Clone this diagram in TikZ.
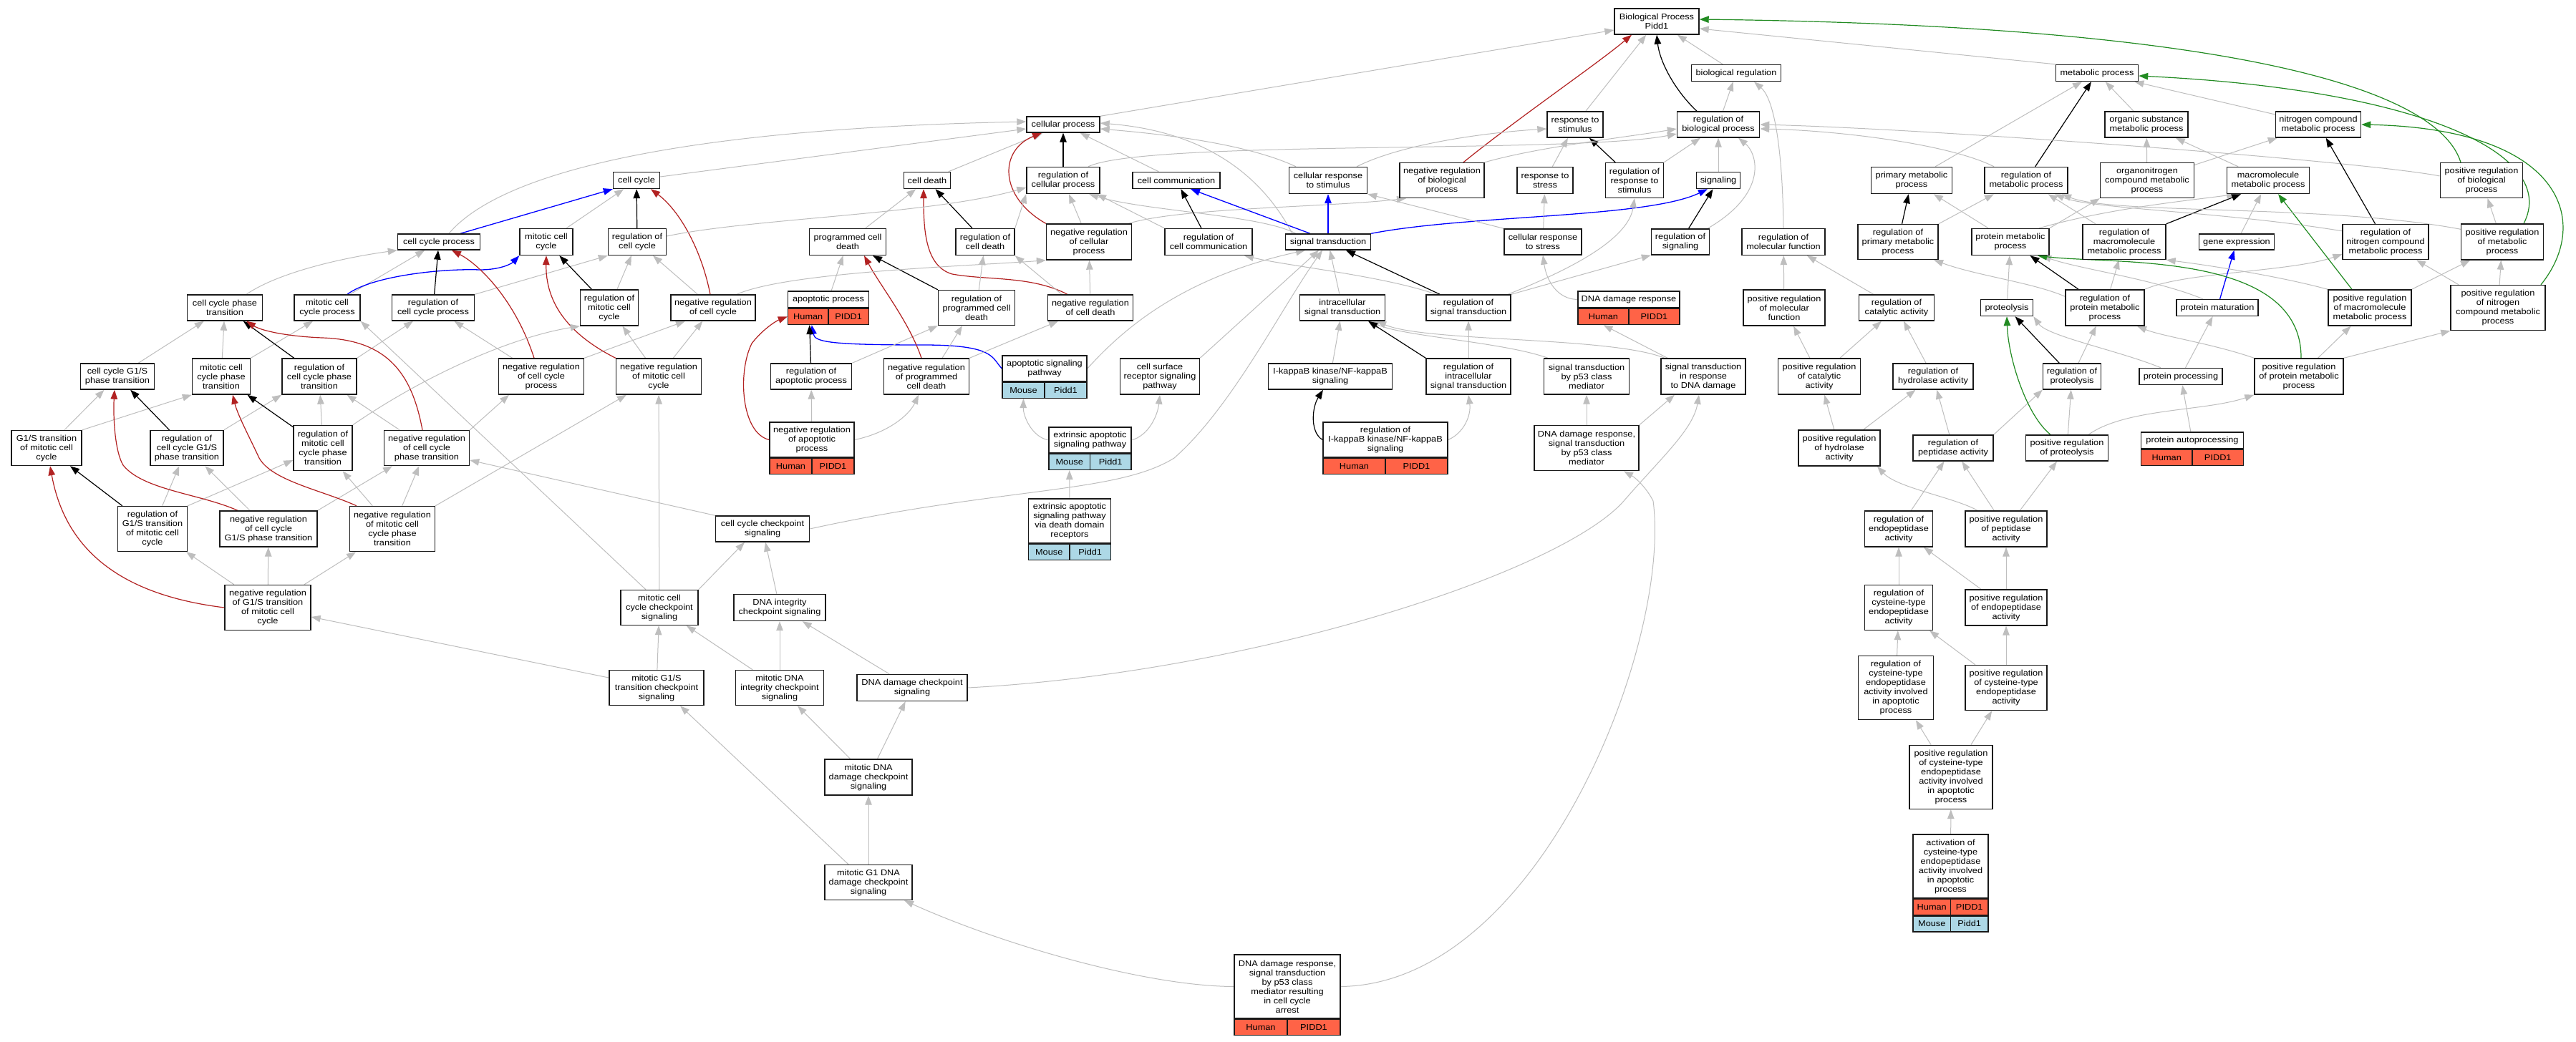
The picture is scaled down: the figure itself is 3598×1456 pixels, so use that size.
\documentclass[tikz,border=0pt]{standalone}
\usepackage{fontspec}
\setmainfont{Liberation Sans}[FakeStretch=1.1]
\usetikzlibrary{arrows.meta}
\definecolor{eg}{RGB}{190,190,190}
\definecolor{ered}{RGB}{178,34,34}
\definecolor{egreen}{RGB}{34,139,34}
\definecolor{eblue}{RGB}{0,0,255}
\definecolor{hum}{RGB}{255,99,71}
\definecolor{mou}{RGB}{173,216,230}
\pgfdeclarelayer{bg}
\pgfsetlayers{bg,main}
\newcommand\nf{\fontsize{11.6pt}{13pt}\selectfont}
\newcommand\gonode[6]{\node[box,minimum width=#4pt,minimum height=#5pt] (#1) at (#2,#3) {#6};}
\begin{document}
\begin{tikzpicture}[x=1pt,y=-1pt,
  box/.style={draw=black!90, line width=1.4pt, fill=white, inner sep=1pt, align=center, font=\nf},
  hc/.style={box, fill=hum, minimum height=22pt},
  mc/.style={box, fill=mou, minimum height=22pt},
  tip/.style={-{Triangle[length=13pt,width=9.5pt]}},
  ge/.style={draw=eg, line width=1pt, tip},
  be/.style={draw=black, line width=1.2pt, tip},
  re/.style={draw=ered, line width=1.2pt, tip},
  gn/.style={draw=egreen, line width=1.2pt, tip},
  bl/.style={draw=eblue, line width=1.3pt, tip}]
\useasboundingbox (0,0) rectangle (3598,1456);

% ---------------- nodes ----------------
\gonode{BP}{2314}{30}{118}{36}{Biological Process\\Pidd1}
\gonode{bioreg}{2425}{102}{125}{23}{biological regulation}
\gonode{metab}{2929}{102}{115}{23}{metabolic process}
\gonode{cellproc}{1485}{174}{102}{22}{cellular process}
\gonode{respstim}{2200}{174}{78}{36}{response to\\stimulus}
\gonode{regbio}{2400}{174}{115}{36}{regulation of\\biological process}
\gonode{orgsub}{2998}{174}{116}{36}{organic substance\\metabolic process}
\gonode{nitro}{3238}{174}{119}{36}{nitrogen compound\\metabolic process}
\gonode{cellcycle}{889}{252}{65}{23}{cell cycle}
\gonode{celldeath}{1295}{252}{65}{23}{cell death}
\gonode{regcell}{1485}{252}{102}{37}{regulation of\\cellular process}
\gonode{cellcomm}{1643}{252}{122}{23}{cell communication}
\gonode{cellresp}{1855}{252}{109}{37}{cellular response\\to stimulus}
\gonode{negbio}{2014}{252}{118}{49}{negative regulation\\of biological\\process}
\gonode{respstress}{2158}{252}{78}{37}{response to\\stress}
\gonode{regresp}{2283}{252}{81}{49}{regulation of\\response to\\stimulus}
\gonode{signaling}{2400}{252}{61}{23}{signaling}
\gonode{primary}{2670}{252}{113}{37}{primary metabolic\\process}
\gonode{regmet}{2830}{252}{116}{37}{regulation of\\metabolic process}
\gonode{orgnit}{2999}{252}{131}{49}{organonitrogen\\compound metabolic\\process}
\gonode{macro}{3168}{252}{115}{37}{macromolecule\\metabolic process}
\gonode{posbio}{3466}{252}{115}{49}{positive regulation\\of biological\\process}
\gonode{ccp}{613}{338}{115}{22}{cell cycle process}
\gonode{mcc}{763}{338}{74}{37}{mitotic cell\\cycle}
\gonode{regcc}{890}{338}{81}{37}{regulation of\\cell cycle}
\gonode{pcd}{1184}{338}{107}{37}{programmed cell\\death}
\gonode{regcd}{1376}{338}{82}{37}{regulation of\\cell death}
\gonode{negcell}{1521}{338}{119}{50}{negative regulation\\of cellular\\process}
\gonode{regcomm}{1688}{338}{122}{37}{regulation of\\cell communication}
\gonode{sigtrans}{1855}{338}{119}{22}{signal transduction}
\gonode{crstress}{2155}{338}{108}{36}{cellular response\\to stress}
\gonode{regsig}{2347}{338}{81}{36}{regulation of\\signaling}
\gonode{regmf}{2491}{338}{116}{37}{regulation of\\molecular function}
\gonode{regprim}{2651}{338}{112}{49}{regulation of\\primary metabolic\\process}
\gonode{protmet}{2808}{338}{108}{37}{protein metabolic\\process}
\gonode{regmacro}{2967}{338}{116}{49}{regulation of\\macromolecule\\metabolic process}
\gonode{geneexp}{3124}{338}{105}{22}{gene expression}
\gonode{regnit}{3332}{338}{120}{49}{regulation of\\nitrogen compound\\metabolic process}
\gonode{posmet}{3495}{338}{115}{50}{positive regulation\\of metabolic\\process}
\gonode{ccpt}{314}{430}{105}{36}{cell cycle phase\\transition}
\gonode{mccp}{457}{430}{92}{36}{mitotic cell\\cycle process}
\gonode{regccp}{605}{430}{115}{36}{regulation of\\cell cycle process}
\gonode{regmcc}{851}{430}{81}{50}{regulation of\\mitotic cell\\cycle}
\gonode{negcc}{996}{430}{118}{36}{negative regulation\\of cell cycle}
\gonode{apop}{1157}{418.5}{113}{23}{apoptotic process}
\node[hc,minimum width=56.5pt,anchor=north west] (apopH) at (apop.south west) {Human};
\node[hc,minimum width=56.5pt,anchor=north east] (apopP) at (apop.south east) {PIDD1};
\gonode{regpcd}{1364}{430}{107}{49}{regulation of\\programmed cell\\death}
\gonode{negcd}{1523}{430}{119}{36}{negative regulation\\of cell death}
\gonode{intra}{1875}{430}{119}{36}{intracellular\\signal transduction}
\gonode{regst}{2051}{430}{118}{36}{regulation of\\signal transduction}
\gonode{dnadr}{2275}{418.5}{142}{23}{DNA damage response}
\node[hc,minimum width=71pt,anchor=north west] (dnadrH) at (dnadr.south west) {Human};
\node[hc,minimum width=71pt,anchor=north east] (dnadrP) at (dnadr.south east) {PIDD1};
\gonode{posmf}{2492}{430}{114}{50}{positive regulation\\of molecular\\function}
\gonode{regcat}{2649}{430}{105}{36}{regulation of\\catalytic activity}
\gonode{proteo}{2803}{430}{73}{23}{proteolysis}
\gonode{regpm}{2940}{430}{110}{50}{regulation of\\protein metabolic\\process}
\gonode{protmat}{3097}{430}{114}{23}{protein maturation}
\gonode{posmacro}{3310}{430}{116}{50}{positive regulation\\of macromolecule\\metabolic process}
\gonode{posnit}{3489}{430}{132}{63}{positive regulation\\of nitrogen\\compound metabolic\\process}
\gonode{ccg1s}{164}{526}{103}{36}{cell cycle G1/S\\phase transition}
\gonode{mccpt}{309}{526}{81}{50}{mitotic cell\\cycle phase\\transition}
\gonode{regccpt}{446}{526}{104}{50}{regulation of\\cell cycle phase\\transition}
\gonode{negccp}{756}{526}{119}{50}{negative regulation\\of cell cycle\\process}
\gonode{negmcc}{920}{526}{119}{50}{negative regulation\\of mitotic cell\\cycle}
\gonode{regap}{1133}{526}{113}{36}{regulation of\\apoptotic process}
\gonode{negpcd}{1294}{526}{119}{50}{negative regulation\\of programmed\\cell death}
\gonode{apsig}{1459}{515}{118}{36}{apoptotic signaling\\pathway}
\node[mc,minimum width=59pt,anchor=north west] (apsigM) at (apsig.south west) {Mouse};
\node[mc,minimum width=59pt,anchor=north east] (apsigP) at (apsig.south east) {Pidd1};
\gonode{csr}{1620}{526}{111}{50}{cell surface\\receptor signaling\\pathway}
\gonode{ikb}{1858}{526}{173}{36}{I-kappaB kinase/NF-kappaB\\signaling}
\gonode{regintra}{2051}{526}{118}{50}{regulation of\\intracellular\\signal transduction}
\gonode{p53}{2216}{526}{119}{50}{signal transduction\\by p53 class\\mediator}
\gonode{stdna}{2379}{526}{118}{50}{signal transduction\\in response\\to DNA damage}
\gonode{poscat}{2541}{526}{115}{50}{positive regulation\\of catalytic\\activity}
\gonode{reghyd}{2700}{526}{112}{36}{regulation of\\hydrolase activity}
\gonode{regproteo}{2894}{526}{81}{36}{regulation of\\proteolysis}
\gonode{protproc}{3046}{526}{116}{23}{protein processing}
\gonode{pospm}{3211}{526}{124}{50}{positive regulation\\of protein metabolic\\process}
\gonode{g1s}{65}{626}{98}{49}{G1/S transition\\of mitotic cell\\cycle}
\gonode{regccg1s}{261}{626}{102}{49}{regulation of\\cell cycle G1/S\\phase transition}
\gonode{regmccpt}{451}{626}{82}{63}{regulation of\\mitotic cell\\cycle phase\\transition}
\gonode{negccpt}{596}{626}{119}{49}{negative regulation\\of cell cycle\\phase transition}
\gonode{negap}{1134}{614.5}{118}{49}{negative regulation\\of apoptotic\\process}
\node[hc,minimum width=59pt,anchor=north west] (negapH) at (negap.south west) {Human};
\node[hc,minimum width=59pt,anchor=north east] (negapP) at (negap.south east) {PIDD1};
\gonode{extap}{1522.5}{615}{115}{36}{extrinsic apoptotic\\signaling pathway}
\node[mc,minimum width=57.5pt,anchor=north west] (extapM) at (extap.south west) {Mouse};
\node[mc,minimum width=57.5pt,anchor=north east] (extapP) at (extap.south east) {Pidd1};
\gonode{regikb}{1935}{614.5}{174}{49}{regulation of\\I-kappaB kinase/NF-kappaB\\signaling}
\node[hc,minimum width=87pt,anchor=north west] (regikbH) at (regikb.south west) {Human};
\node[hc,minimum width=87pt,anchor=north east] (regikbP) at (regikb.south east) {PIDD1};
\gonode{dnap53}{2216}{626}{146}{63}{DNA damage response,\\signal transduction\\by p53 class\\mediator}
\gonode{poshyd}{2569}{626}{114}{50}{positive regulation\\of hydrolase\\activity}
\gonode{regpep}{2728}{626}{112}{36}{regulation of\\peptidase activity}
\gonode{posproteo}{2887}{626}{115}{36}{positive regulation\\of proteolysis}
\gonode{autoproc}{3062}{615.5}{143}{23}{protein autoprocessing}
\node[hc,minimum width=71.5pt,anchor=north west] (autoprocH) at (autoproc.south west) {Human};
\node[hc,minimum width=71.5pt,anchor=north east] (autoprocP) at (autoproc.south east) {PIDD1};
\gonode{regg1s}{213}{739}{97}{63}{regulation of\\G1/S transition\\of mitotic cell\\cycle}
\gonode{negccg1s}{375}{739}{136}{50}{negative regulation\\of cell cycle\\G1/S phase transition}
\gonode{negmccpt}{548}{739}{119}{63}{negative regulation\\of mitotic cell\\cycle phase\\transition}
\gonode{ccchk}{1065}{739}{131}{36}{cell cycle checkpoint\\signaling}
\gonode{extdd}{1494}{728}{115}{62}{extrinsic apoptotic\\signaling pathway\\via death domain\\receptors}
\node[mc,minimum width=57.5pt,anchor=north west] (extddM) at (extdd.south west) {Mouse};
\node[mc,minimum width=57.5pt,anchor=north east] (extddP) at (extdd.south east) {Pidd1};
\gonode{regendo}{2652}{739}{95}{50}{regulation of\\endopeptidase\\activity}
\gonode{pospep}{2802}{739}{114}{50}{positive regulation\\of peptidase\\activity}
\gonode{negGs}{374}{849}{120}{63}{negative regulation\\of G1/S transition\\of mitotic cell\\cycle}
\gonode{mccchk}{921}{849}{108}{49}{mitotic cell\\cycle checkpoint\\signaling}
\gonode{dnaint}{1089}{849}{128}{37}{DNA integrity\\checkpoint signaling}
\gonode{regcys}{2652}{849}{95}{63}{regulation of\\cysteine-type\\endopeptidase\\activity}
\gonode{posendo}{2802}{849}{114}{50}{positive regulation\\of endopeptidase\\activity}
\gonode{mgschk}{917}{961}{132}{49}{mitotic G1/S\\transition checkpoint\\signaling}
\gonode{mdnaint}{1089}{961}{123}{49}{mitotic DNA\\integrity checkpoint\\signaling}
\gonode{dnadchk}{1274}{961}{154}{37}{DNA damage checkpoint\\signaling}
\gonode{regcysap}{2648}{961}{105}{89}{regulation of\\cysteine-type\\endopeptidase\\activity involved\\in apoptotic\\process}
\gonode{poscys}{2802}{961}{114}{63}{positive regulation\\of cysteine-type\\endopeptidase\\activity}
\gonode{mdnadchk}{1213}{1086}{122}{50}{mitotic DNA\\damage checkpoint\\signaling}
\gonode{poscysap}{2725}{1086}{116}{89}{positive regulation\\of cysteine-type\\endopeptidase\\activity involved\\in apoptotic\\process}
\gonode{mgdna}{1213}{1233}{122}{49}{mitotic G1 DNA\\damage checkpoint\\signaling}
\gonode{actcys}{2724.5}{1210.5}{105}{89}{activation of\\cysteine-type\\endopeptidase\\activity involved\\in apoptotic\\process}
\node[hc,minimum width=52.5pt,anchor=north west] (actH) at (actcys.south west) {Human};
\node[hc,minimum width=52.5pt,anchor=north east] (actP) at (actcys.south east) {PIDD1};
\node[mc,minimum width=52.5pt,anchor=north west] (actM) at (actH.south west) {Mouse};
\node[mc,minimum width=52.5pt,anchor=north east] (actMP) at (actP.south east) {Pidd1};
\gonode{arrest}{1798}{1378.5}{148}{89}{DNA damage response,\\signal transduction\\by p53 class\\mediator resulting\\in cell cycle\\arrest}
\node[hc,minimum width=74pt,anchor=north west] (arrestH) at (arrest.south west) {Human};
\node[hc,minimum width=74pt,anchor=north east] (arrestP) at (arrest.south east) {PIDD1};

% ---------------- edges ----------------
\begin{pgfonlayer}{bg}
\fill[white] (0,0) rectangle (3598,1456);
% top
\draw[ge] (cellproc.north east) -- ([yshift=-12pt]BP.west);
\draw[ge] (bioreg) -- (BP);
\draw[ge] (metab.north west) -- ([yshift=-10pt]BP.east);
\draw[ge] (respstim) -- (BP);
\draw[be] ([xshift=-30pt]regbio.north) .. controls (2338,125) and (2318,85) .. (BP.south);
\draw[re] ([xshift=30pt]negbio.north) .. controls (2120,165) and (2230,90) .. ([xshift=-35pt]BP.south);
\draw[gn] ([xshift=-29pt]posbio.north) .. controls (3400,110) and (3050,35) .. ([yshift=3pt]BP.east);
\draw[ge] (regbio) -- (bioreg);
% metabolic
\draw[ge] (orgsub) -- (metab);
\draw[ge] (nitro) -- (metab);
\draw[ge] (primary) -- (metab);
\draw[be] (regmet) -- (metab);
\draw[gn] ([xshift=30pt]posmet.north) .. controls (3575,215) and (3380,125) .. ([yshift=-4pt]metab.east);
\draw[gn] ([xshift=60pt]posnit.north) .. controls (3620,310) and (3580,180) .. (nitro.east);
\draw[ge] (orgnit) -- (orgsub);
\draw[ge] (orgnit) -- (nitro);
\draw[ge] (macro) -- (orgsub);
\draw[ge] ([xshift=-45pt]regmet.north) .. controls (2720,200) and (2560,182) .. ([yshift=-6pt]regbio.east);
\draw[ge] ([yshift=6pt]posbio.west) .. controls (3300,225) and (2700,180) .. (regbio.east);
\draw[be] (regprim) -- (primary);
\draw[ge] (regprim.north east) -- ([xshift=-45pt]regmet.south);
\draw[ge] (protmet) -- (primary);
\draw[ge] (protmet.north east) -- (orgnit.south west);
\draw[ge] ([xshift=40pt]protmet.north) .. controls (2950,290) and (3060,280) .. ([xshift=-45pt]macro.south);
\draw[ge] (regmacro) -- (regmet);
\draw[be] (regmacro.north east) -- ([xshift=-38pt]macro.south);
\draw[ge] (geneexp) -- (macro);
\draw[be] (regnit) -- (nitro);
\draw[ge] ([yshift=-10pt]regnit.north west) .. controls (3100,295) and (2920,292) .. ([xshift=40pt]regmet.south);
\draw[ge] (regmf.north) .. controls (2490,220) and (2480,140) .. ([xshift=25pt]bioreg.south);
\draw[be] (regsig) -- (signaling);
\draw[ge] ([xshift=38pt]regsig.north) .. controls (2470,270) and (2455,215) .. ([xshift=28pt]regbio.south);
\draw[ge] (signaling) -- (regbio);
\draw[be] (regresp) -- (respstim);
\draw[ge] (regresp.north east) -- ([xshift=-25pt]regbio.south);
\draw[ge] (respstress) -- (respstim);
\draw[ge] (negbio.north east) .. controls (2150,205) and (2270,192) .. ([yshift=-6pt]regbio.west);
\draw[ge] ([xshift=35pt]regcell.north) .. controls (1600,195) and (2200,215) .. ([yshift=-13pt]regbio.west);
\draw[ge] ([xshift=40pt]cellresp.north) .. controls (1960,200) and (2080,185) .. ([yshift=-6pt]respstim.west);
\draw[ge] ([xshift=-45pt]cellresp.north) .. controls (1740,200) and (1620,187) .. ([yshift=-6pt]cellproc.east);
\draw[ge] (cellcomm) -- (cellproc);
\draw[be] (regcell) -- (cellproc);
\draw[ge] (celldeath) -- (cellproc);
\draw[ge] ([yshift=5pt]cellcycle.east) -- ([yshift=-6pt]cellproc.west);
\draw[ge] ([xshift=14pt]ccp.north) .. controls (700,240) and (950,180) .. ([yshift=4pt]cellproc.west);
\draw[ge] ([xshift=-50pt]sigtrans.north) .. controls (1770,260) and (1700,185) .. ([yshift=2pt]cellproc.east);
\draw[ge] ([xshift=-45pt]sigtrans.north) .. controls (1760,300) and (1600,295) .. ([xshift=36pt]regcell.south);
\draw[ge] ([xshift=55pt]negcell.north) .. controls (1650,290) and (1850,290) .. ([xshift=-50pt]negbio.south);
\draw[re] (negcell.north west) .. controls (1395,275) and (1395,210) .. ([xshift=-30pt]cellproc.south);
\draw[ge] (negcell) -- (regcell);
\draw[be] (regcd) -- (celldeath);
\draw[ge] (regcd.north east) -- (regcell.south west);
\draw[be] (regcomm) -- (cellcomm);
\draw[ge] (regcomm.north west) -- ([xshift=47pt]regcell.south);
\draw[bl] ([xshift=-25pt]sigtrans.north) -- ([xshift=20pt]cellcomm.south);
\draw[bl] (sigtrans) -- (cellresp);
\draw[bl] (sigtrans.north east) .. controls (2050,300) and (2300,305) .. ([xshift=-15pt]signaling.south);
\draw[ge] (crstress.north west) -- (cellresp.south east);
\draw[ge] (crstress) -- (respstress);
\draw[ge] (pcd) -- (celldeath);
\draw[re] ([xshift=-32pt]negcd.north) .. controls (1440,385) and (1380,392) .. (1330,383) .. controls (1292,372) and (1290,320) .. ([xshift=-5pt]celldeath.south);
\draw[ge] ([xshift=-40pt]negcd.north) -- (regcd.south east);
\draw[ge] (negcd) -- (negcell);
\draw[ge] (apop) -- (pcd);
\draw[be] (regpcd.north west) -- ([xshift=35pt]pcd.south);
\draw[ge] (regpcd) -- (regcd);
\draw[ge] (intra) -- (sigtrans);
\draw[be] (regst) -- (sigtrans);
\draw[ge] (regst.north east) -- (regsig.south west);
\draw[ge] ([xshift=55pt]regst.north) .. controls (2210,370) and (2275,330) .. (regresp.south);
\draw[ge] ([xshift=-45pt]regst.north) .. controls (1930,385) and (1800,372) .. ([xshift=50pt]regcomm.south);
\draw[ge] (dnadr.west) .. controls (2175,418) and (2160,392) .. (crstress.south);
% right column
\draw[ge] (regcat) -- (regmf);
\draw[ge] (posmf) -- (regmf);
\draw[ge] (poscat) -- (posmf);
\draw[ge] (poscat) -- (regcat);
\draw[ge] (reghyd) -- (regcat);
\draw[ge] (poshyd) -- (poscat);
\draw[ge] (poshyd) -- (reghyd);
\draw[ge] (regpep) -- (reghyd);
\draw[ge] (regpep.north east) -- (regproteo.south west);
\draw[gn] ([xshift=-23pt]posproteo.north) .. controls (2830,580) and (2805,500) .. (proteo.south);
\draw[ge] (posproteo) -- (regproteo);
\draw[ge] ([xshift=30pt]posproteo.north) .. controls (2970,570) and (3080,575) .. (pospm.south west);
\draw[be] (regproteo) -- (proteo);
\draw[ge] (regproteo) -- (regpm);
\draw[ge] (proteo) -- (protmet);
\draw[be] (regpm) -- (protmet);
\draw[ge] (regpm) -- (regmacro);
\draw[ge] ([yshift=-10pt]regpm.north west) .. controls (2840,395) and (2760,385) .. ([xshift=50pt]regprim.south);
\draw[ge] (regpm.north east) .. controls (3050,380) and (3200,380) .. ([yshift=8pt]regnit.south west);
\draw[ge] ([xshift=-20pt]protmat.north) .. controls (3010,390) and (2900,375) .. ([xshift=44pt]protmet.south);
\draw[bl] (protmat) -- (geneexp);
\draw[ge] (protproc) -- (protmat);
\draw[ge] ([xshift=-28pt]protproc.north) .. controls (2960,490) and (2860,470) .. (proteo.south east);
\draw[ge] (autoproc) -- (protproc);
\draw[gn] ([xshift=-25pt]posmacro.north) -- ([xshift=14pt]macro.south);
\draw[ge] (posmacro.north west) .. controls (3180,385) and (3080,370) .. (regmacro.south east);
\draw[ge] (posmacro.north east) -- ([xshift=-45pt]posmet.south);
\draw[ge] (posnit) -- (regnit);
\draw[ge] (posnit) -- (posmet);
\draw[ge] (pospm.north west) .. controls (3090,480) and (3020,470) .. ([xshift=45pt]regpm.south);
\draw[ge] (pospm) -- (posmacro);
\draw[ge] (pospm.north east) -- (posnit.south west);
\draw[gn] ([xshift=3pt]pospm.north) .. controls (3215,350) and (2950,370) .. ([xshift=38pt]protmet.south);
\draw[ge] (posmet) -- (posbio);
\draw[ge] ([yshift=-8pt]posmet.north west) .. controls (3250,285) and (2950,300) .. ([xshift=50pt]regmet.south);
% signalling
\draw[ge] ([xshift=-54pt]p53.north) .. controls (2100,478) and (1960,470) .. ([xshift=38pt]intra.south);
\draw[ge] ([xshift=-54pt]stdna.north) .. controls (2250,470) and (1990,478) .. ([xshift=48pt]intra.south);
\draw[ge] ([xshift=-50pt]stdna.north) -- (dnadrH.south);
\draw[be] (regintra.north west) -- ([xshift=36pt]intra.south);
\draw[ge] (regintra) -- (regst);
\draw[ge] (ikb) -- (intra);
\draw[be] (regikb.west) .. controls (1830,605) and (1832,570) .. ([xshift=-10pt]ikb.south);
\draw[ge] (regikb.east) .. controls (2045,605) and (2055,580) .. (regintra.south);
\draw[ge] (dnap53) -- (p53);
\draw[ge] (dnap53.north east) -- ([xshift=-40pt]stdna.south);
\draw[ge] (csr.north east) -- ([xshift=-13pt]sigtrans.south);
\draw[bl] (apsig.west) .. controls (1385,500) and (1390,482) .. (1290,482) .. controls (1160,482) and (1138,478) .. ([xshift=5pt]apopH.south);
\draw[ge] (apsig.east) .. controls (1560,470) and (1640,390) .. ([xshift=-32pt]sigtrans.south);
\draw[ge] (ccchk.east) .. controls (1400,680) and (1560,690) .. (1640,640) .. controls (1720,570) and (1790,430) .. ([xshift=-8pt]sigtrans.south);
\draw[be] (regap) -- ([xshift=2pt]apopH.south);
\draw[ge] (regap.north east) -- (regpcd.south west);
\draw[re] ([xshift=-7pt]negpcd.north) .. controls (1270,450) and (1230,400) .. ([xshift=23pt]pcd.south);
\draw[ge] ([xshift=22pt]negpcd.north) -- ([xshift=-20pt]regpcd.south);
\draw[ge] (negpcd.north east) -- ([xshift=-45pt]negcd.south);
\draw[re] (negap.west) .. controls (1035,605) and (1030,520) .. (1050,480) .. controls (1065,460) and (1085,448) .. (apopH.west);
\draw[ge] (negap) -- (regap);
\draw[ge] (negap.east) .. controls (1240,605) and (1270,580) .. ([xshift=-11pt]negpcd.south);
\draw[ge] (extap.west) .. controls (1440,610) and (1429,580) .. (apsigM.south);
\draw[ge] (extap.east) .. controls (1605,608) and (1617,580) .. (csr.south);
\draw[ge] (extdd) -- (extapM.south);
% cell cycle
\draw[bl] ([xshift=30pt]ccp.north) -- (cellcycle.south west);
\draw[ge] (mcc) -- (cellcycle);
\draw[be] (regcc) -- (cellcycle);
\draw[re] ([xshift=-4pt]negcc.north) .. controls (980,350) and (950,295) .. ([xshift=20pt]cellcycle.south);
\draw[ge] ([yshift=8pt]regcc.east) .. controls (1050,305) and (1300,300) .. ([yshift=-10pt]regcell.west);
\draw[ge] ([xshift=30pt]ccpt.north) .. controls (390,380) and (480,360) .. (ccp.south west);
\draw[ge] (mccp) -- (ccp);
\draw[bl] ([xshift=28pt]mccp.north) .. controls (520,385) and (620,375) .. (670,377) .. controls (700,377) and (715,368) .. (mcc.south west);
\draw[be] (regccp) -- (ccp);
\draw[ge] (regccp.north east) -- (regcc.south west);
\draw[be] (regmcc) -- (mcc);
\draw[ge] (regmcc) -- (regcc);
\draw[ge] (negcc) -- (regcc);
\draw[ge] ([xshift=33pt]negcc.north) .. controls (1100,380) and (1350,372) .. (negcell.south west);
\draw[ge] (ccg1s) -- (ccpt);
\draw[ge] (mccpt) -- (ccpt);
\draw[ge] (mccpt.north east) -- ([xshift=-20pt]mccp.south);
\draw[be] (regccpt) -- (ccpt);
\draw[ge] (regccpt.north east) -- ([xshift=-28pt]regccp.south);
\draw[re] ([xshift=-10pt]negccp.north) .. controls (720,420) and (670,370) .. ([xshift=18pt]ccp.south);
\draw[ge] (negccp) -- (regccp);
\draw[ge] (negccp.north east) -- ([xshift=-39pt]negcc.south);
\draw[re] (negmcc.north west) .. controls (790,465) and (762,420) .. (mcc.south);
\draw[ge] (negmcc) -- (regmcc);
\draw[ge] (negmcc) -- (negcc);
\draw[ge] (g1s) -- (ccg1s);
\draw[ge] (g1s.north east) -- (mccpt.south west);
\draw[be] (regccg1s) -- (ccg1s);
\draw[ge] (regccg1s.north east) -- (regccpt.south west);
\draw[be] (regmccpt) -- (mccpt);
\draw[ge] (regmccpt) -- (regccpt);
\draw[ge] (regmccpt.north east) .. controls (600,520) and (720,470) .. (regmcc.south west);
\draw[re] ([xshift=-6pt]negccpt.north) .. controls (575,520) and (540,475) .. (450,472) .. controls (400,470) and (365,462) .. ([xshift=30pt]ccpt.south);
\draw[ge] (negccpt) -- (regccpt);
\draw[ge] (negccpt.north east) -- ([xshift=-45pt]negccp.south);
\draw[be] (regg1s) -- (g1s);
\draw[ge] (regg1s) -- (regccg1s);
\draw[ge] (regg1s.north east) -- ([yshift=-17pt]regmccpt.west);
\draw[re] ([xshift=-43pt]negccg1s.north) .. controls (280,690) and (200,685) .. (172,650) .. controls (160,630) and (158,580) .. ([xshift=-4pt]ccg1s.south);
\draw[ge] (negccg1s) -- (regccg1s);
\draw[ge] (negccg1s.north east) -- ([xshift=-48pt]negccpt.south);
\draw[re] ([xshift=-50pt]negmccpt.north) .. controls (450,685) and (380,672) .. (362,640) .. controls (348,610) and (332,580) .. ([xshift=16pt]mccpt.south);
\draw[ge] (negmccpt) -- (regmccpt);
\draw[ge] (negmccpt) -- (negccpt);
\draw[ge] (negmccpt.north east) -- ([xshift=-45pt]negmcc.south);
\draw[re] (negGs.west) .. controls (200,835) and (95,790) .. ([xshift=5pt]g1s.south);
\draw[ge] (negGs) -- (regg1s);
\draw[ge] (negGs) -- (negccg1s);
\draw[ge] (negGs) -- (negmccpt);
\draw[ge] (mccchk) -- (negmcc);
\draw[ge] ([xshift=-19pt]mccchk.north) -- (mccp.south east);
\draw[ge] (mccchk.north east) -- ([xshift=-25pt]ccchk.south);
\draw[ge] (ccchk.north west) -- ([yshift=-17pt]negccpt.east);
\draw[ge] (dnaint) -- (ccchk);
\draw[ge] (mdnaint) -- (dnaint);
\draw[ge] (mdnaint) -- (mccchk);
\draw[ge] (mgschk) -- (mccchk);
\draw[ge] ([yshift=14pt]mgschk.west) -- ([yshift=-13pt]negGs.east);
\draw[ge] (dnadchk) -- (dnaint);
\draw[ge] (dnadchk.east) .. controls (1750,940) and (2180,800) .. (2268,700) .. controls (2320,640) and (2365,600) .. ([xshift=-6pt]stdna.south);
\draw[ge] (mdnadchk) -- (mdnaint);
\draw[ge] (mdnadchk) -- (dnadchk);
\draw[ge] (mgdna) -- (mdnadchk);
\draw[ge] ([xshift=-28pt]mgdna.north) -- ([xshift=33pt]mgschk.south);
\draw[ge] (arrest.west) .. controls (1600,1378) and (1400,1320) .. ([xshift=50pt]mgdna.south);
\draw[ge] (arrest.east) .. controls (2150,1375) and (2335,900) .. (2309,700) .. controls (2300,682) and (2285,668) .. ([xshift=52pt]dnap53.south);
% peptidase column
\draw[ge] (regendo) -- (regpep);
\draw[ge] (pospep) -- (regpep);
\draw[ge] ([xshift=-40pt]pospep.north) .. controls (2730,695) and (2650,682) .. ([xshift=53pt]poshyd.south);
\draw[ge] (pospep) -- (posproteo);
\draw[ge] (regcys) -- (regendo);
\draw[ge] (posendo) -- (regendo);
\draw[ge] (posendo) -- (pospep);
\draw[ge] (regcysap) -- (regcys);
\draw[ge] (poscys) -- (regcys);
\draw[ge] (poscys) -- (posendo);
\draw[ge] (poscysap) -- (regcysap);
\draw[ge] (poscysap) -- (poscys);
\draw[ge] (actcys) -- (poscysap);
\end{pgfonlayer}
\end{tikzpicture}
\end{document}
